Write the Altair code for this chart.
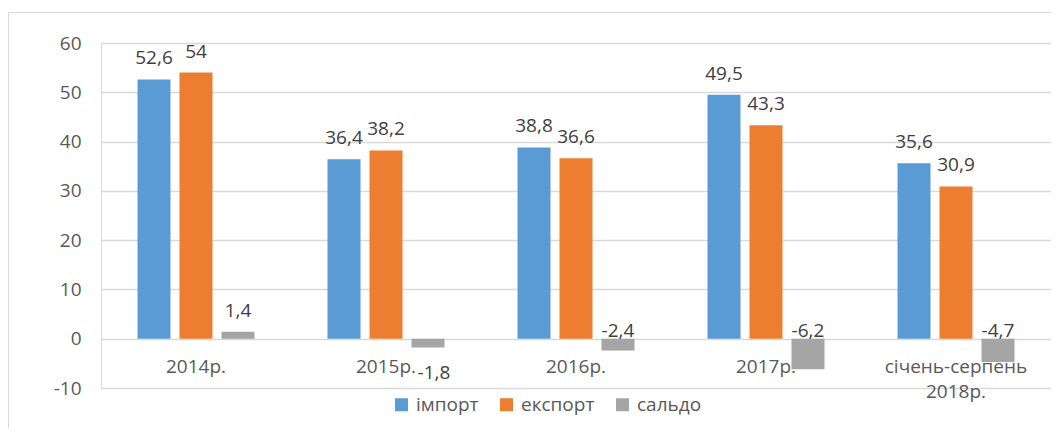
import altair as alt
import pandas as pd

categories = ["2014р.", "2015р.", "2016р.", "2017р.", "січень-серпень 2018р."]
series = ["імпорт", "експорт", "сальдо"]
imports = [52.6, 36.4, 38.8, 49.5, 35.6]
exports = [54, 38.2, 36.6, 43.3, 30.9]
balance = [1.4, -1.8, -2.4, -6.2, -4.7]
colors = ["#5B9BD5", "#ED7D31", "#A5A5A5"]
y_ticks = [-10, 0, 10, 20, 30, 40, 50, 60]

rows = []
for i, c in enumerate(categories):
    for s, vals in zip(series, [imports, exports, balance]):
        v = vals[i]
        rows.append({"cat": c, "series": s, "value": v,
                     "label": f"{v:g}".replace(".", ",")})
df = pd.DataFrame(rows)

FONT = "Open Sans"
FS = 19

x_enc = alt.X("cat:N", sort=categories,
              scale=alt.Scale(paddingInner=0, paddingOuter=0),
              axis=alt.Axis(title=None, orient="bottom", offset=-49.3,
                            domain=False, ticks=False, tickSize=0,
                            labelPadding=19, labelFont=FONT, labelFontSize=FS,
                            labelColor="#595959", labelAngle=0,
                            labelOverlap=False, labelLimit=300,
                            labelExpr="split(datum.label, ' ')",
                            labelLineHeight=25, grid=False))
x_plain = alt.X("cat:N", sort=categories)
xoff = alt.XOffset("series:N", sort=series,
                   scale=alt.Scale(domain=series, paddingInner=0.214, paddingOuter=0.869))
y_enc = alt.Y("value:Q",
              scale=alt.Scale(domain=[-10, 60], nice=False, zero=False),
              axis=alt.Axis(title=None, values=y_ticks, domain=False, ticks=False,
                            grid=True, gridColor="#D9D9D9", gridWidth=1.3,
                            labelPadding=20, labelFont=FONT, labelFontSize=FS,
                            labelColor="#595959",
                            labelExpr="'' + datum.value"))

base = alt.Chart(df)

bars = base.mark_bar().encode(
    x=x_enc, xOffset=xoff, y=y_enc,
    color=alt.Color("series:N", sort=series,
                    scale=alt.Scale(domain=series, range=colors),
                    legend=alt.Legend(title=None, orient="none", direction="horizontal",
                                      legendX=291, legendY=352,
                                      symbolType="square", symbolSize=169,
                                      symbolStrokeWidth=0, symbolOpacity=1,
                                      labelFont=FONT, labelFontSize=FS,
                                      labelColor="#595959", labelOffset=5,
                                      columnPadding=18)),
)

txt_kw = dict(font=FONT, fontSize=FS, color="#404040", align="center")

pos_labels = base.transform_filter("datum.value >= 0").mark_text(
    baseline="alphabetic", dy=-15, **txt_kw).encode(
    x=x_plain, xOffset=xoff, y=alt.Y("value:Q"), text="label:N")

neg_labels = base.transform_filter(
    "datum.value < 0 && datum.cat != '2015р.'").mark_text(
    baseline="alphabetic", dy=-2, **txt_kw).encode(
    x=x_plain, xOffset=xoff, y=alt.datum(0), text="label:N")

neg_2015 = base.transform_filter(
    "datum.value < 0 && datum.cat == '2015р.'").mark_text(
    baseline="alphabetic", dy=31, dx=6, **txt_kw).encode(
    x=x_plain, xOffset=xoff, y=alt.Y("value:Q"), text="label:N")

frame = alt.Chart(pd.DataFrame({"f": [0]})).mark_rect(
    filled=False, stroke="#D9D9D9", strokeWidth=1).encode(
    x=alt.value(-92.5), x2=alt.value(2000), y=alt.value(-30.5), y2=alt.value(2000))

chart = alt.layer(frame, bars, pos_labels, neg_labels, neg_2015).properties(
    width=950, height=345,
    autosize=alt.AutoSizeParams(type="none"),
    padding={"left": 93, "top": 35, "right": 0, "bottom": 40},
).configure_view(stroke=None).configure(font=FONT)

chart.save("out.html", embed_options={"renderer": "svg", "actions": False})
